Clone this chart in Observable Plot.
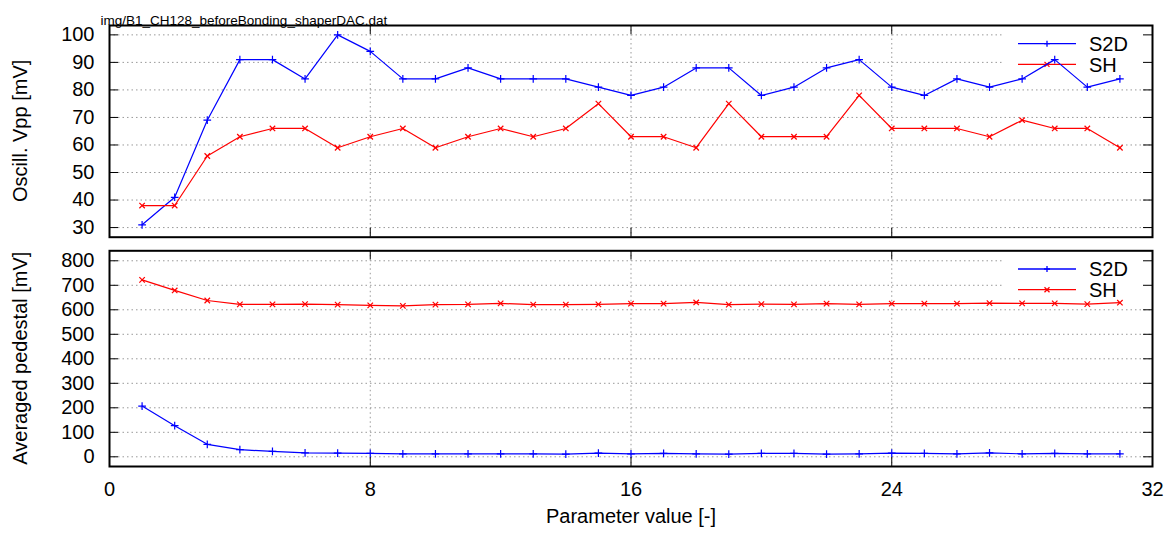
<!DOCTYPE html>
<html><head><meta charset="utf-8">
<script src="https://cdn.jsdelivr.net/npm/d3@7"></script>
<script src="https://cdn.jsdelivr.net/npm/@observablehq/plot@0.6"></script>
<style>
body{margin:0;background:#fff;font-family:"Liberation Sans",Arial,sans-serif}
#chart svg{display:block}
</style>
</head><body><div id="chart"></div>
<script>
const titleText = "img/B1_CH128_beforeBonding_shaperDAC.dat";
const params = [1,2,3,4,5,6,7,8,9,10,11,12,13,14,15,16,17,18,19,20,21,22,23,24,25,26,27,28,29,30,31];
const vppS2D = [31,41,69,91,91,84,100,94,84,84,88,84,84,84,81,78,81,88,88,78,81,88,91,81,78,84,81,84,91,81,84];
const vppSH  = [38,38,56,63,66,66,59,63,66,59,63,66,63,66,75,63,63,59,75,63,63,63,78,66,66,66,63,69,66,66,59];
const pedS2D = [207,127,51,29,22,16,15,14,12,12,12,12,12,11,15,12,14,12,11,14,14,11,12,15,14,12,16,12,14,12,12];
const pedSH  = [722,679,638,622,622,623,621,618,616,621,622,626,621,621,622,625,625,630,621,623,622,625,622,625,625,625,627,626,626,623,629];
const xTicks = [0,8,16,24,32];
const vppTicks = [30,40,50,60,70,80,90,100];
const pedTicks = [0,100,200,300,400,500,600,700,800];
const seriesNames = ["S2D","SH"];
const seriesColors = ["#0000ff","#ff0000"];
const seriesSymbols = ["plus","times"];

const W = 1173, ML = 109, MR = 21;
const FONT = "Liberation Sans, Arial, sans-serif";

function panel({height, marginTop, marginBottom, yDomain, yTicks, s2d, sh, yLabel, showX, title, legendH}) {
  const fw = W - ML - MR, fh = height - marginTop - marginBottom;
  const sets = [s2d, sh].map(vals => params.map((p, i) => ({x: p, y: vals[i]})));
  const legend = (index, scales, values, dims) => {
    const g = d3.create("svg:g");
    const R = dims.width - dims.marginRight, T = dims.marginTop;
    g.append("rect").attr("x", R - 149).attr("y", T + 1).attr("width", 148).attr("height", legendH).attr("fill", "white");
    seriesNames.forEach((name, i) => {
      const y = T + 18.7 + i * 20.7;
      g.append("line").attr("x1", R - 134).attr("x2", R - 76).attr("y1", y).attr("y2", y)
        .attr("stroke", seriesColors[i]).attr("stroke-width", 1.3);
      const cx = R - 105;
      if (i === 0) {
        g.append("path").attr("d", `M${cx-3},${y}H${cx+3}M${cx},${y-3}V${y+3}`).attr("stroke", seriesColors[i]).attr("stroke-width", 1.3);
      } else {
        g.append("path").attr("d", `M${cx-2.5},${y-2.5}L${cx+2.5},${y+2.5}M${cx-2.5},${y+2.5}L${cx+2.5},${y-2.5}`).attr("stroke", seriesColors[i]).attr("stroke-width", 1.3);
      }
      g.append("text").attr("x", R - 63).attr("y", y).attr("dy", "0.36em").attr("text-anchor", "start")
        .attr("font-size", 20).attr("font-family", FONT).attr("fill", "black").text(name);
    });
    return g.node();
  };
  const yTitle = (index, scales, values, dims) => {
    const g = d3.create("svg:g");
    const cy = dims.marginTop + (dims.height - dims.marginTop - dims.marginBottom) / 2;
    g.append("text").attr("transform", `translate(20,${cy}) rotate(-90)`).attr("text-anchor", "middle")
      .attr("dy", "0.35em").attr("font-size", 20).attr("font-family", FONT).attr("fill", "black").text(yLabel);
    return g.node();
  };
  const marks = [
    Plot.gridY(yTicks, {stroke: "#999", strokeOpacity: 1, strokeDasharray: "1.5,3"}),
    Plot.gridX(xTicks.slice(1, -1), {stroke: "#999", strokeOpacity: 1, strokeDasharray: "1.5,3"}),
    legend,
  ];
  sets.forEach((d, i) => {
    marks.push(Plot.line(d, {x: "x", y: "y", stroke: seriesColors[i], strokeWidth: 1.2}));
    marks.push(Plot.dot(d, {x: "x", y: "y", symbol: seriesSymbols[i], stroke: seriesColors[i], r: 2.6, strokeWidth: 1.2}));
  });
  marks.push(
    Plot.frame({stroke: "black", strokeWidth: 2}),
    Plot.tickY(yTicks, {y: d => d, stroke: "black", insetRight: fw - 9}),
    Plot.tickY(yTicks, {y: d => d, stroke: "black", insetLeft: fw - 9}),
    Plot.tickX(xTicks, {x: d => d, stroke: "black", insetTop: fh - 9}),
    Plot.tickX(xTicks, {x: d => d, stroke: "black", insetBottom: fh - 9}),
    Plot.axisY(yTicks, {tickSize: 0, tickPadding: 15, fontSize: 20, label: null}),
    yTitle
  );
  if (showX) {
    marks.push(
      Plot.axisX(xTicks, {tickSize: 0, tickPadding: 15, fontSize: 20, label: null}),
      Plot.text(["Parameter value [-]"], {frameAnchor: "bottom", dy: 56, fontSize: 20, fill: "black"})
    );
  }
  if (title) {
    marks.push(Plot.text([title], {frameAnchor: "top-left", dx: -9, dy: -10, textAnchor: "start", fontSize: 13.5, fill: "black"}));
  }
  return Plot.plot({
    width: W, height, marginTop, marginBottom, marginLeft: ML, marginRight: MR,
    style: {fontFamily: FONT, color: "black", background: "white", overflow: "visible"},
    x: {domain: [0, 32], axis: null},
    y: {domain: yDomain, axis: null},
    marks
  });
}

const chart = document.getElementById("chart");
chart.append(panel({height: 243, marginTop: 25, marginBottom: 6.3, yDomain: [26.5, 103.4], yTicks: vppTicks,
  s2d: vppS2D, sh: vppSH, yLabel: "Oscill. Vpp [mV]", showX: false, title: titleText, legendH: 50}));
chart.append(panel({height: 295, marginTop: 7.3, marginBottom: 72, yDomain: [-39.6, 840.8], yTicks: pedTicks,
  s2d: pedS2D, sh: pedSH, yLabel: "Averaged pedestal [mV]", showX: true, title: null, legendH: 49}));
</script>
</body></html>
